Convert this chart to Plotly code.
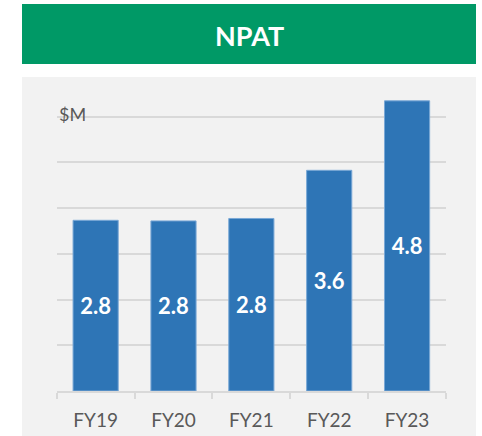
import plotly.graph_objects as go

categories = ["FY19", "FY20", "FY21", "FY22", "FY23"]
npat = [2.80, 2.79, 2.83, 3.62, 4.76]
title_text = "NPAT"
unit_label = "$M"

W, H = 482, 436

def px(x):
    return x / W

def py(y):
    return 1 - y / H

# plot-area geometry (pixels)
plot_left, plot_right = 56.7, 446.0
plot_bottom, plot_top = 391.0, 95.0
px_per_unit = 60.96
ymax = (plot_bottom - plot_top) / px_per_unit

fig = go.Figure(
    go.Bar(
        x=categories,
        y=npat,
        marker=dict(color="#2e75b6", line=dict(color="#7aa8d6", width=1)),
        texttemplate="%{y:.1f}",
        textposition="inside",
        insidetextanchor="middle",
        textfont=dict(family="Lato", size=22, color="white", weight="bold"),
        textangle=0,
        hoverinfo="skip",
    )
)

fig.update_layout(
    width=W,
    height=H,
    margin=dict(l=0, r=0, t=0, b=0),
    paper_bgcolor="white",
    plot_bgcolor="#f2f2f2",
    showlegend=False,
    bargap=0.42,
    shapes=[
        dict(type="rect", xref="paper", yref="paper",
             x0=px(22), x1=px(476), y0=py(436), y1=py(77),
             fillcolor="#f2f2f2", line=dict(width=0), layer="below"),
        dict(type="rect", xref="paper", yref="paper",
             x0=px(22), x1=px(476), y0=py(64), y1=py(4),
             fillcolor="#009966", line=dict(width=0), layer="below"),
    ],
    annotations=[
        dict(text=title_text, xref="paper", yref="paper",
             x=px(249), y=py(35), xanchor="center", yanchor="middle",
             showarrow=False,
             font=dict(family="Lato", size=27, color="white", weight="bold")),
        dict(text=unit_label, xref="paper", yref="y",
             x=px(plot_left), y=4.5, xanchor="left", yanchor="middle",
             yshift=3, showarrow=False,
             font=dict(family="Lato", size=18, color="#595959")),
    ],
    xaxis=dict(
        domain=[px(plot_left), px(plot_right)],
        showline=True, linecolor="#d9d9d9", linewidth=2,
        ticks="outside", tickson="boundaries", ticklen=6,
        tickcolor="#d9d9d9", tickwidth=2,
        ticklabelstandoff=11,
        tickfont=dict(family="Lato", size=19, color="#595959"),
        showgrid=False,
    ),
    yaxis=dict(
        domain=[py(plot_bottom), py(plot_top)],
        range=[0, ymax],
        tick0=0, dtick=0.75,
        showgrid=True, gridcolor="#d9d9d9", gridwidth=2,
        showticklabels=False, zeroline=False, showline=False,
    ),
)

fig.write_html(
    "out.html",
    config={"displayModeBar": False, "staticPlot": True},
    post_script="document.body.style.margin='0';document.body.style.overflow='hidden';",
)
